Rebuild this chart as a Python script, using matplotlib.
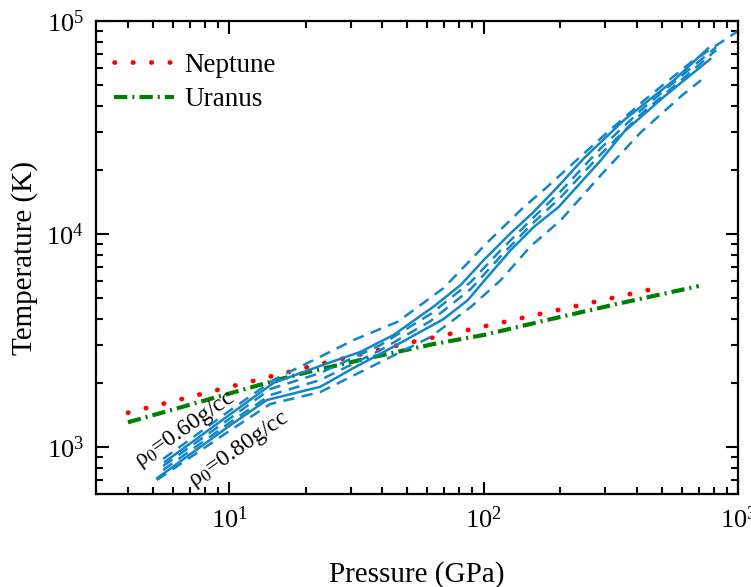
import numpy as np
import matplotlib
matplotlib.use("Agg")
import matplotlib.pyplot as plt

plt.rcParams["font.family"] = ["Liberation Serif", "DejaVu Serif"]
plt.rcParams["mathtext.fontset"] = "stix"

# Planetary isentropes (pressure in GPa, temperature in K)
neptune_p = [4.0, 10.0, 21.4, 48.9, 100.0, 182.0, 500.0]
neptune_t = [1449, 1914, 2409, 3055, 3681, 4316, 5640]

uranus_p = [4.0, 10.0, 15.4, 19.0, 34.8, 63.5, 100.0, 182.0, 346.0, 700.0]
uranus_t = [1306, 1782, 2064, 2203, 2607, 3045, 3357, 3977, 4742, 5700]

# Hugoniot, rho0 = 0.60 g/cc (mean)
h060_p = [5.6, 10.0, 14.9, 24.3, 32.8, 44.2, 63.5, 81.2, 100.0, 127.7, 157.4, 195.5, 247.8, 355.6, 559.6, 760.6]
h060_t = [853, 1413, 1997, 2472, 2799, 3357, 4562, 5768, 7552, 10110, 12730, 16670, 22740, 34280, 52840, 74470]

# Hugoniot, rho0 = 0.80 g/cc (mean)
h080_p = [5.21, 10.0, 14.06, 22.8, 30.8, 44.2, 69.6, 86.6, 103.6, 127.7, 157.4, 197.3, 288.6, 355.6, 510.5, 776.6]
h080_t = [714, 1255, 1662, 1918, 2350, 2958, 3991, 4898, 6302, 8415, 10810, 13430, 22220, 30200, 44150, 66370]

# uncertainty bounds
h060_hi_p = [5.5, 10.0, 14.9, 20.8, 30.8, 45.9, 69.6, 103.7, 143.7, 175.4, 214.1, 307.7, 442.3, 653.2, 1000.0]
h060_hi_t = [879, 1476, 2064, 2515, 3179, 3875, 5578, 9170, 13390, 16440, 20420, 30220, 43980, 64200, 90000]

bound_p = [5.5, 10.0, 14.5, 22.8, 39.3, 61.8, 88.9, 116.7, 153.1, 201.0, 288.6, 415.0, 597.0, 819.0]
h060_lo_t = [814, 1354, 1872, 2226, 3012, 4211, 5951, 8412, 11630, 15920, 25340, 38210, 55180, 75500]
h080_hi_t = [780, 1296, 1754, 2064, 2853, 3904, 5518, 7883, 11020, 14920, 23740, 36600, 52840, 73100]

h080_lo_p = [5.2, 10.0, 14.5, 22.8, 39.3, 61.8, 88.9, 116.7, 153.1, 201.0, 288.6, 415.0, 597.0, 715.0]
h080_lo_t = [700, 1189, 1592, 1812, 2506, 3284, 4543, 6081, 8783, 11630, 18920, 30120, 44460, 52840]

# label anchors (P, T)
label_pos = {"0.60": (6.7, 1200), "0.80": (10.9, 975)}

blue = "#1287c8"

fig = plt.figure(figsize=(7.51, 5.87), dpi=100)
ax = fig.add_axes([0.128, 0.158, 0.855, 0.806])

ax.plot(neptune_p, neptune_t, color="red", lw=3.4, linestyle=(0, (0.1, 3.8)),
        dash_capstyle="round", label="Neptune")
ax.plot(uranus_p, uranus_t, color="#008000", lw=3.0, linestyle=(0, (3.2, 1.2, 0.5, 1.2)),
        dash_capstyle="butt", label="Uranus")

dash = (0, (4.5, 3))
ax.plot(h060_p, h060_t, color=blue, lw=1.8)
ax.plot(h080_p, h080_t, color=blue, lw=1.8)
ax.plot(h060_hi_p, h060_hi_t, color=blue, lw=1.8, linestyle=dash)
ax.plot(bound_p, h060_lo_t, color=blue, lw=1.8, linestyle=dash)
ax.plot(bound_p, h080_hi_t, color=blue, lw=1.8, linestyle=dash)
ax.plot(h080_lo_p, h080_lo_t, color=blue, lw=1.8, linestyle=dash)

ax.set_xscale("log")
ax.set_yscale("log")
ax.set_xlim(3, 1000)
ax.set_ylim(600, 1e5)

for rho, (px, py) in label_pos.items():
    ax.text(px, py, "ρ$_0$=" + rho + "g/cc", fontsize=17, rotation=35,
            ha="center", va="center")

ax.set_xlabel("Pressure (GPa)", fontsize=21, labelpad=20)
ax.set_ylabel("Temperature (K)", fontsize=21, labelpad=6)

ax.tick_params(which="both", direction="in", top=True, right=True, labelsize=19, width=1.5)
ax.tick_params(which="major", length=9, pad=9)
ax.tick_params(which="minor", length=5)
for sp in ax.spines.values():
    sp.set_linewidth(1.6)

ax.legend(loc="upper left", frameon=False, fontsize=19.5, handlelength=2.2,
          handletextpad=0.4, bbox_to_anchor=(-0.01, 0.985), labelspacing=0.35)

fig.savefig("out.png", dpi=100)
